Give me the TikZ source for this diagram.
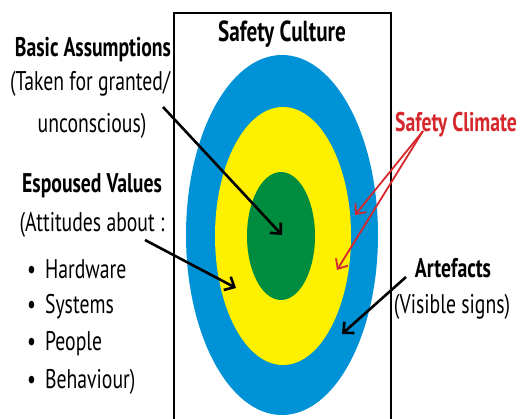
\documentclass[tikz,border=0pt]{standalone}
\usepackage{fontspec}
\setmainfont{PT Sans}[FakeStretch=0.73]
\usetikzlibrary{arrows.meta}
\definecolor{ringblue}{RGB}{0,146,214}
\definecolor{ringyellow}{RGB}{255,240,0}
\definecolor{ringgreen}{RGB}{0,140,62}
\definecolor{climatered}{RGB}{214,40,44}

\begin{document}
\begin{tikzpicture}[x=1pt, y=-1pt, font=\fontsize{27}{30}\selectfont,
    every node/.style={anchor=base, inner sep=0pt},
    pointer/.style={line width=2.6pt, -{Straight Barb[length=8pt,width=15pt]}},
    redpointer/.style={climatered, line width=1.8pt, -{Straight Barb[length=8pt,width=14pt]}},
    heading/.style={font=\fontsize{27}{30}\selectfont\bfseries},
    item/.style={anchor=base west}]
    \useasboundingbox (0,0) rectangle (521,419);

    % frame and rings
    \draw[line width=1.5pt] (174,419) -- (174,13) -- (391,13) -- (391,419);
    \fill[ringblue] (282,235) ellipse [x radius=96, y radius=180];
    \fill[ringyellow] (283,236) ellipse [x radius=68, y radius=129];
    \fill[ringgreen] (281,236) ellipse [x radius=34, y radius=64];
    \node[heading, font=\fontsize{29}{32}\selectfont\bfseries] (culture) at (282,42) {Safety Culture};

    % left labels
    \node[heading] (basic) at (93,57) {Basic Assumptions};
    \node (taken) at (90,91) {(Taken for granted/};
    \node (uncon) at (92,133) {unconscious)};
    \node[heading] (espoused) at (92,193) {Espoused Values};
    \node (attitudes) at (92,232) {(Attitudes about :};
    \node[item] (hardware) at (27,278) {\textbullet\hspace{9pt}Hardware};
    \node[item] (systems) at (27,313) {\textbullet\hspace{9pt}Systems};
    \node[item] (people) at (27,350) {\textbullet\hspace{9pt}People};
    \node[item] (behaviour) at (27,388) {\textbullet\hspace{9pt}Behaviour)};

    % right labels
    \node[heading, text=climatered] (climate) at (456,132) {Safety Climate};
    \node[heading] (artefacts) at (453,277) {Artefacts};
    \node (visible) at (452,313) {(Visible signs)};

    % arrow ends
    \coordinate (basicstart) at (163,107);
    \coordinate (greenin) at (282,235);
    \coordinate (valuestart) at (145,240);
    \coordinate (yellowin) at (236,288);
    \coordinate (climatestart) at (423,131);
    \coordinate (blueedge) at (355,215);
    \coordinate (yellowedge) at (337,270);
    \coordinate (artstart) at (406,277);
    \coordinate (bluein) at (342,334);

    \draw[pointer] (basicstart) -- (greenin);
    \draw[pointer] (valuestart) -- (yellowin);
    \draw[redpointer] (climatestart) -- (blueedge);
    \draw[redpointer] (climatestart) -- (yellowedge);
    \draw[pointer] (artstart) -- (bluein);
\end{tikzpicture}
\end{document}
